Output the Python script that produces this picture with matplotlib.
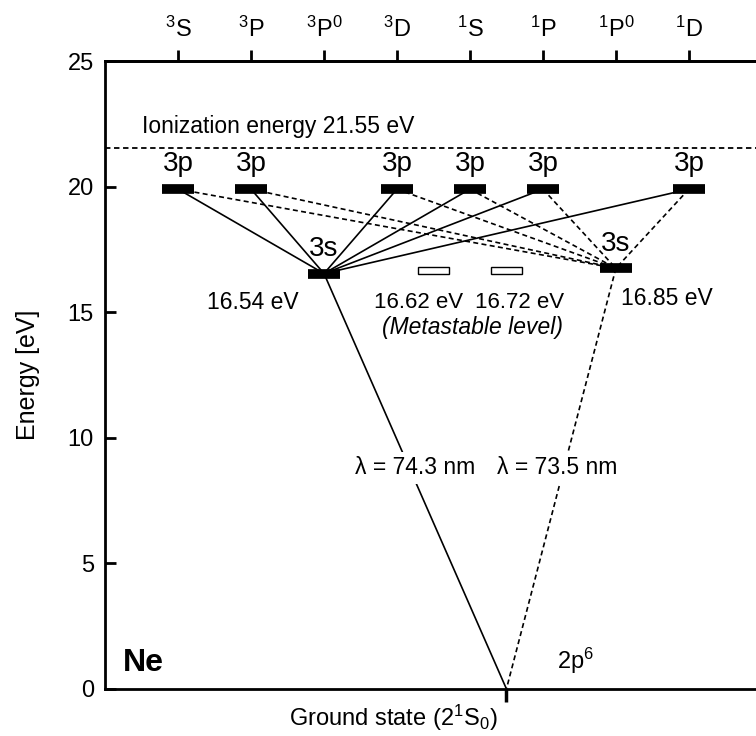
import numpy as np
import matplotlib
matplotlib.use("Agg")
import matplotlib.pyplot as plt
from matplotlib.patches import Rectangle

plt.rcParams['font.family'] = ['Liberation Sans', 'DejaVu Sans']
plt.rcParams['mathtext.fontset'] = 'custom'
plt.rcParams['mathtext.rm'] = 'Liberation Sans'
plt.rcParams['mathtext.it'] = 'Liberation Sans:italic'
plt.rcParams['mathtext.bf'] = 'Liberation Sans:bold'

# termos (eixo de cima)
term_labels = [r'$^3$S', r'$^3$P', r'$^3$P$^0$', r'$^3$D', r'$^1$S', r'$^1$P', r'$^1$P$^0$', r'$^1$D']
term_x = [1, 2, 3, 4, 5, 6, 7, 8]

# niveis 3p
p3_x = [1, 2, 4, 5, 6, 8]
p3_E = 19.9

# niveis 3s (ressonantes)
s3_x = [3, 7]
s3_E = [16.54, 16.75]
s3_labels = ['16.54 eV', '16.85 eV']
s3_label_x = [2.03, 7.7]
s3_label_y = [15.4, 15.55]

# niveis metaestaveis
meta_x = [4.5, 5.5]
meta_E = 16.67
meta_labels = ['16.62 eV', '16.72 eV']
meta_label_x = [4.29, 5.68]

ground_x = 5.5
ion_E = 21.55
lambdas = ['74.3', '73.5']
lambda_x = [4.25, 6.2]

def main():
    fig = plt.figure(figsize=(7.56, 7.36), dpi=100)
    ax = fig.add_axes([0.139, 0.064, 0.861, 0.853])
    ax.set_xlim(0, 8.92)
    ax.set_ylim(0, 25)

    # linhas de transicao 3p -> 3s
    for x in p3_x:
        ax.plot([x, s3_x[0]], [p3_E, s3_E[0]], color='k', lw=1.2, zorder=2)
        ax.plot([x, s3_x[1]], [p3_E, s3_E[1]], color='k', lw=1.2, ls=(0, (3, 2)), zorder=2)

    # 3s -> estado fundamental
    ax.plot([s3_x[0], ground_x], [s3_E[0], 0], color='k', lw=1.2, zorder=2)
    ax.plot([s3_x[1], ground_x], [s3_E[1], 0], color='k', lw=1.2, ls=(0, (3, 2)), zorder=2)

    # niveis
    hw = 0.22
    for x in p3_x:
        ax.plot([x - hw, x + hw], [p3_E, p3_E], color='k', lw=7, solid_capstyle='butt', zorder=3)
        ax.text(x, p3_E + 0.5, '3p', ha='center', va='bottom', fontsize=20)
    for x, e in zip(s3_x, s3_E):
        ax.plot([x - hw, x + hw], [e, e], color='k', lw=7, solid_capstyle='butt', zorder=3)
        ax.text(x, e + 0.45, '3s', ha='center', va='bottom', fontsize=20)
    for x, y, lab in zip(s3_label_x, s3_label_y, s3_labels):
        ax.text(x, y, lab, ha='center', va='center', fontsize=16.5)

    for x in meta_x:
        ax.add_patch(Rectangle((x - 0.21, meta_E - 0.15), 0.42, 0.3, facecolor='white',
                               edgecolor='k', lw=1, zorder=3))
    for x, lab in zip(meta_label_x, meta_labels):
        ax.text(x, 15.4, lab, ha='center', va='center', fontsize=16)
    ax.text(5.03, 14.4, '(Metastable level)', ha='center', va='center', fontsize=16.5, style='italic')

    # energia de ionizacao
    ax.axhline(ion_E, color='k', lw=1.3, ls=(0, (3, 2)))
    ax.text(0.5, ion_E + 0.85, 'Ionization energy 21.55 eV', ha='left', va='center', fontsize=16.5)

    # comprimentos de onda
    for x, lam in zip(lambda_x, lambdas):
        ax.text(x, 8.8, 'λ = %s nm' % lam, ha='center', va='center', fontsize=16.5,
                bbox=dict(facecolor='white', edgecolor='none', pad=3), zorder=4)

    ax.text(0.25, 1.05, 'Ne', ha='left', va='center', fontsize=23, fontweight='bold')
    ax.text(6.45, 1.1, r'2p$^6$', ha='center', va='center', fontsize=17)
    ax.text(3.95, -1.15, r'Ground state (2$^1$S$_0$)', ha='center', va='center', fontsize=17,
            clip_on=False)

    # eixos
    for s in ['left', 'top', 'bottom']:
        ax.spines[s].set_linewidth(2)
    ax.spines['right'].set_visible(False)

    ax.set_yticks([0, 5, 10, 15, 20, 25])
    ax.tick_params(axis='y', direction='in', length=8, width=2, labelsize=17, pad=8)
    ax.set_xticks([ground_x])
    ax.set_xticklabels([''])
    ax.tick_params(axis='x', direction='out', length=9, width=2.5)
    ax.set_ylabel('Energy [eV]', fontsize=18)
    ax.yaxis.set_label_coords(-0.10, 0.5)

    top = ax.secondary_xaxis('top')
    top.set_xticks(term_x)
    top.set_xticklabels(term_labels)
    top.tick_params(direction='out', length=8, width=2, labelsize=17, pad=6)
    top.spines['top'].set_linewidth(2)

    fig.savefig('out.png', dpi=100)

main()
